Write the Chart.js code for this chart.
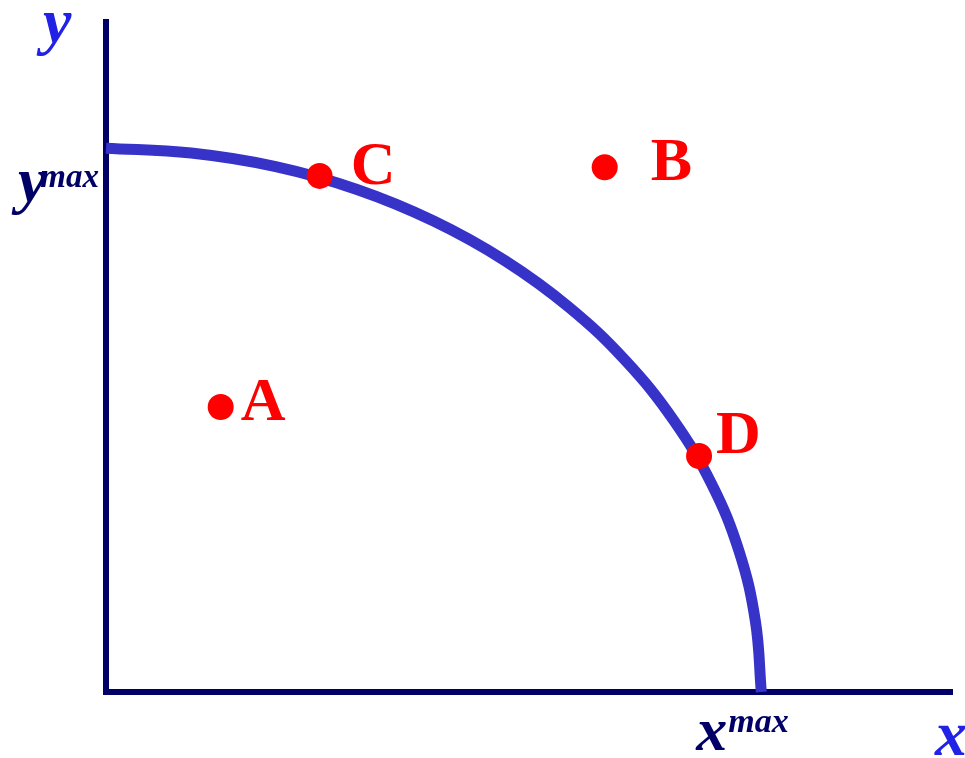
<!DOCTYPE html>
<html>
<head>
<meta charset="utf-8">
<title>Frontier</title>
<script src="https://cdn.jsdelivr.net/npm/chart.js@4.4.1/dist/chart.umd.min.js"></script>
<style>
  html, body { margin: 0; padding: 0; background: #ffffff; }
  #wrap { width: 965px; height: 758px; position: relative; }
</style>
</head>
<body>
<div id="wrap"><canvas id="chart"></canvas></div>
<script>
// Points, in units of the maxima (xmax = 1, ymax = 1)
const pointNames = ['A', 'B', 'C', 'D'];
const pointX = [0.175, 0.761, 0.326, 0.905];
const pointY = [0.524, 0.965, 0.949, 0.434];

// Frontier curve
const curveX = [0, 0.13, 0.259, 0.383, 0.5, 0.609, 0.707, 0.793, 0.866, 0.924, 0.966, 0.991, 1];
const curveY = [1, 0.991, 0.966, 0.924, 0.866, 0.793, 0.707, 0.609, 0.5, 0.383, 0.259, 0.13, 0];

// Axis range and the marked maxima
const xRange = [0, 1.291];
const yRange = [0, 1.232];
const xMaxValue = 1;
const yMaxValue = 1;

const NAVY = '#000066';
const BLUE = '#2222e6';
const CURVE = '#3733c9';
const RED = '#ff0000';
const SERIF = '"Liberation Serif", "Times New Roman", serif';

// where each letter sits relative to its dot (left edge, baseline)
const labelOffsets = [[20, 13], [46, 13], [31, 8], [17, -3]];

const labelsPlugin = {
    id: 'frontierLabels',
    afterDraw(chart) {
        const ctx = chart.ctx;
        const xs = chart.scales.x;
        const ys = chart.scales.y;
        ctx.save();
        ctx.textBaseline = 'alphabetic';
        ctx.textAlign = 'left';

        // point letters
        ctx.fillStyle = RED;
        ctx.font = 'bold 62px ' + SERIF;
        pointNames.forEach((name, i) => {
            const px = xs.getPixelForValue(pointX[i]);
            const py = ys.getPixelForValue(pointY[i]);
            ctx.fillText(name, px + labelOffsets[i][0], py + labelOffsets[i][1]);
        });

        // axis names
        ctx.fillStyle = BLUE;
        ctx.font = 'italic bold 64px ' + SERIF;
        ctx.fillText('y', 43, 42);
        ctx.fillText('x', xs.right - 17, 755);

        // y max label
        const yPix = ys.getPixelForValue(yMaxValue);
        ctx.fillStyle = NAVY;
        ctx.font = 'italic bold 33px ' + SERIF;
        const maxW = ctx.measureText('max').width;
        ctx.fillText('max', 99 - maxW, yPix + 39);
        ctx.font = 'italic bold 64px ' + SERIF;
        const yW = ctx.measureText('y').width;
        ctx.fillText('y', 99 - maxW - yW + 6, yPix + 53);

        // x max label
        const xPix = xs.getPixelForValue(xMaxValue);
        ctx.font = 'italic bold 62px ' + SERIF;
        const xW = ctx.measureText('x').width;
        ctx.fillText('x', xPix - 65, 750);
        ctx.font = 'italic bold 34px ' + SERIF;
        ctx.fillText('max', xPix - 64 + xW, 732);

        ctx.restore();
    }
};

const noSize = scale => { if (scale.isHorizontal()) { scale.height = 0; } else { scale.width = 0; } };

new Chart(document.getElementById('chart'), {
    type: 'scatter',
    data: {
        datasets: [
            {
                label: 'points',
                data: pointX.map((x, i) => ({ x: x, y: pointY[i] })),
                pointRadius: 13,
                pointBackgroundColor: RED,
                pointBorderWidth: 0,
                showLine: false,
                clip: false
            },
            {
                label: 'frontier',
                data: curveX.map((x, i) => ({ x: x, y: curveY[i] })),
                showLine: true,
                borderColor: CURVE,
                borderWidth: 11,
                tension: 0.4,
                pointRadius: 0,
                fill: false,
                clip: false
            }
        ]
    },
    options: {
        responsive: true,
        maintainAspectRatio: false,
        animation: false,
        events: [],
        layout: { padding: { left: 106, right: 12, top: 22, bottom: 66 } },
        plugins: {
            legend: { display: false },
            tooltip: { enabled: false }
        },
        scales: {
            x: {
                type: 'linear',
                min: xRange[0],
                max: xRange[1],
                grid: { display: false, drawTicks: false },
                ticks: { display: false },
                border: { display: true, color: NAVY, width: 6 },
                afterFit: noSize
            },
            y: {
                type: 'linear',
                min: yRange[0],
                max: yRange[1],
                grid: { display: false, drawTicks: false },
                ticks: { display: false },
                border: { display: true, color: NAVY, width: 6 },
                afterFit: noSize
            }
        }
    },
    plugins: [labelsPlugin]
});
</script>
</body>
</html>
